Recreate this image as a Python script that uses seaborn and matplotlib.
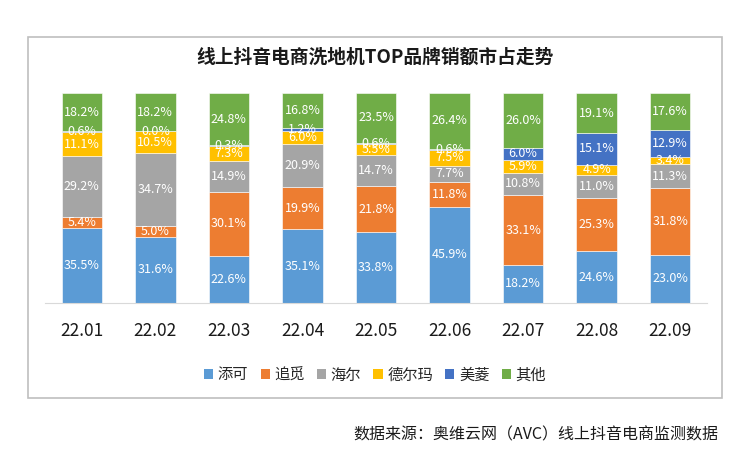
import numpy as np
import matplotlib
matplotlib.use("Agg")
import matplotlib.pyplot as plt
import seaborn as sns
from matplotlib.patches import Rectangle, Patch

# -----------------------------
# Data (percent share)
# -----------------------------
months = ["22.01", "22.02", "22.03", "22.04", "22.05", "22.06", "22.07", "22.08", "22.09"]
brands = ["添可", "追觅", "海尔", "德尔玛", "美菱", "其他"]

tineco = [35.5, 31.6, 22.6, 35.1, 33.8, 45.9, 18.2, 24.6, 23.0]
dreame = [5.4, 5.0, 30.1, 19.9, 21.8, 11.8, 33.1, 25.3, 31.8]
haier = [29.2, 34.7, 14.9, 20.9, 14.7, 7.7, 10.8, 11.0, 11.3]
deerma = [11.1, 10.5, 7.3, 6.0, 5.5, 7.5, 5.9, 4.9, 3.4]
meiling = [0.6, 0.0, 0.3, 1.2, 0.6, 0.6, 6.0, 15.1, 12.9]
others = [18.2, 18.2, 24.8, 16.8, 23.5, 26.4, 26.0, 19.1, 17.6]

series = [tineco, dreame, haier, deerma, meiling, others]
colors = ["#5B9BD5", "#ED7D31", "#A5A5A5", "#FFC000", "#4472C4", "#70AD47"]

# -----------------------------
# Style
# -----------------------------
sns.set_style("white")
plt.rcParams['font.family'] = ['Noto Sans CJK SC', 'DejaVu Sans']

fig = plt.figure(figsize=(7.5, 4.68), dpi=100)
ax = fig.add_axes([0.06, 0.3526, 0.8827, 0.4487])

# outer frame
fig.patches.append(Rectangle((28 / 750, 1 - 398 / 468), 694 / 750, 361 / 468,
                             transform=fig.transFigure, fill=False,
                             edgecolor="#BFBFBF", linewidth=1.2))

# -----------------------------
# Stacked bars
# -----------------------------
bottom = np.zeros(len(months))
for name, vals, col in zip(brands, series, colors):
    vals = np.array(vals)
    sns.barplot(x=months, y=vals, bottom=bottom, color=col, width=0.55,
                saturation=1, edgecolor="white", linewidth=0.4, ax=ax)
    for i, v in enumerate(vals):
        ax.text(i, bottom[i] + v / 2, f"{v:.1f}%", ha="center", va="center",
                color="white", fontsize=9)
    bottom += vals

ax.set_xlim(-0.5, len(months) - 0.5)
ax.set_ylim(0, 100)
ax.set_yticks([])
for s in ["top", "right", "left"]:
    ax.spines[s].set_visible(False)
ax.spines["bottom"].set_color("#D9D9D9")
ax.tick_params(axis="x", length=0, pad=14, labelsize=12.5, labelcolor="#1a1a1a")

fig.text(0.5, 1 - 57 / 468, "线上抖音电商洗地机TOP品牌销额市占走势",
         ha="center", va="center", fontsize=13.5, fontweight="bold", color="#1a1a1a")

handles = [Patch(facecolor=c, edgecolor="none") for c in colors]
fig.legend(handles, brands, loc="center", bbox_to_anchor=(0.5, 1 - 375 / 468),
           ncol=6, frameon=False, fontsize=11, handlelength=0.6, handleheight=0.6,
           handletextpad=0.3, columnspacing=0.8)

fig.text(718 / 750, 1 - 435 / 468, "数据来源：奥维云网（AVC）线上抖音电商监测数据",
         ha="right", va="center", fontsize=11.5, color="#1a1a1a")

plt.savefig("out.png", dpi=100)
plt.close()
